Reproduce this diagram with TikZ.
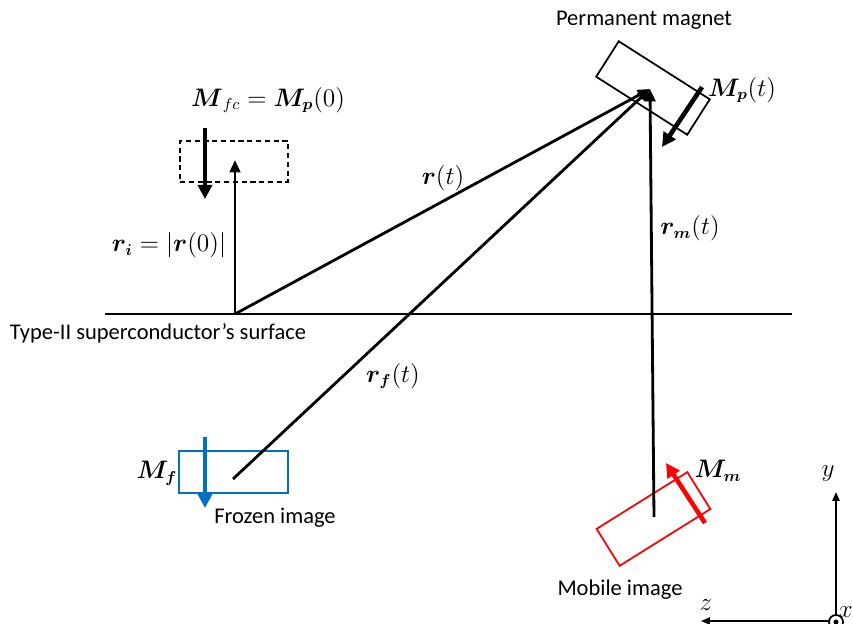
\documentclass[tikz,border=0pt]{standalone}
\usepackage{amsmath, amssymb}
\usepackage{fontspec}
\setsansfont{Carlito}
\usepackage{xcolor}
\usetikzlibrary{arrows.meta, positioning, calc}
\definecolor{frozenblue}{RGB}{0,112,192}
\definecolor{mobilered}{RGB}{255,0,0}

\begin{document}
\begin{tikzpicture}[
    x=0.02cm, y=-0.02cm,
    vec/.style={line width=1.6pt, -{Triangle[length=7pt, width=6pt]}},
    moment/.style={line width=2.6pt, -{Triangle[length=8pt, width=8pt]}},
    box/.style={rectangle, draw, line width=1pt, inner sep=0pt, minimum width=2.16cm, minimum height=0.84cm},
    txt/.style={font=\sffamily\fontsize{12.8}{15}\selectfont},
    lab/.style={font=\fontsize{13.3}{16}\selectfont},
    axis/.style={line width=1pt, -{Triangle[length=5pt, width=4pt]}}
]
\useasboundingbox (0,0) rectangle (853,623);

% surface and origin
\coordinate (sl) at (105,314);
\coordinate (sr) at (792,314);
\coordinate (O) at (235,314);
\draw[line width=0.6pt] (sl) -- (sr);
\node[txt] (surf) at (158,333) {Type-II superconductor’s surface};

% permanent magnet
\node[box, rotate=-32.5] (magnet) at (653,88) {};
\coordinate (pm) at (650,89);
\node[txt] (pmlabel) at (644,20) {Permanent magnet};
\coordinate (mps) at (702,87);
\coordinate (mpe) at (662,147);
\draw[moment] (mps) -- (mpe);
\node[lab] (mplabel) at (742,90) {$\boldsymbol{M_p}(t)$};

% initial position (field cooling)
\node[box, line width=0.6pt, dash pattern=on 3pt off 2pt, minimum width=2.16cm, minimum height=0.82cm] (fc) at (234,161.5) {};
\coordinate (fcs) at (205,128);
\coordinate (fce) at (205,199);
\draw[moment] (fcs) -- (fce);
\node[lab] (fclabel) at (268,100) {$\boldsymbol{M}_{fc}=\boldsymbol{M_p}(0)$};
\coordinate (ri) at (235,160);
\draw[vec] (O) -- (ri);
\node[lab] (rilabel) at (169,245) {$\boldsymbol{r_i}=|\boldsymbol{r}(0)|$};

% frozen image
\node[box, draw=frozenblue, minimum width=2.18cm] (frozen) at (233.5,472) {};
\coordinate (fs) at (205,437);
\coordinate (fe) at (205,508);
\draw[moment, frozenblue] (fs) -- (fe);
\node[lab] (mflabel) at (157,473) {$\boldsymbol{M_f}$};
\node[txt] (frlabel) at (275,518) {Frozen image};
\coordinate (fc0) at (233,479);

% mobile image
\node[box, draw=mobilered, rotate=32, minimum width=2.14cm, minimum height=0.87cm] (mobile) at (653.5,519) {};
\coordinate (ms) at (705,523);
\coordinate (me) at (666,463);
\draw[moment, mobilered] (ms) -- (me);
\node[lab] (mmlabel) at (718,471) {$\boldsymbol{M_m}$};
\node[txt] (mblabel) at (620,590) {Mobile image};
\coordinate (mc0) at (654,517);

% position vectors
\draw[vec] (O) -- (pm);
\draw[vec] (fc0) -- (pm);
\draw[vec] (mc0) -- (pm);
\node[lab] (rlabel) at (443,178) {$\boldsymbol{r}(t)$};
\node[lab] (rflabel) at (393,376) {$\boldsymbol{r_f}(t)$};
\node[lab] (rmlabel) at (690,228) {$\boldsymbol{r_m}(t)$};

% axes
\coordinate (ax) at (836,622);
\coordinate (ay) at (836,492);
\coordinate (az) at (701,621);
\draw[axis] (ax) -- (ay);
\draw[axis] (836,621) -- (az);
\draw[line width=1pt, fill=white] (ax) circle (7);
\fill (ax) circle (2.5);
\node[lab] (ylabel) at (828,474) {$y$};
\node[lab] (zlabel) at (706,605) {$z$};
\node[lab, anchor=east, inner sep=0pt] (xlabel) at (853,612) {$x$};
\end{tikzpicture}
\end{document}
